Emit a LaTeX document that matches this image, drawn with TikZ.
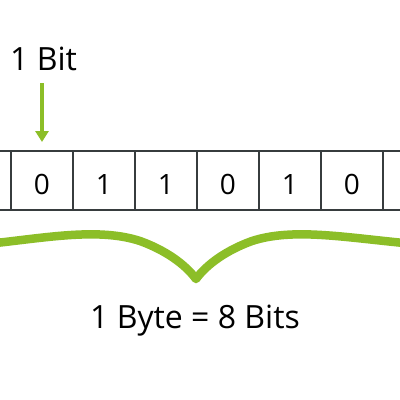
\documentclass[tikz,border=0pt]{standalone}
\usepackage{fontspec}
\setmainfont{Open Sans}
\usetikzlibrary{arrows.meta}
\definecolor{lime}{RGB}{140,190,40}
\definecolor{edge}{RGB}{55,60,62}
\tikzset{
  cell/.style={draw=edge, line width=2.5pt, minimum width=62pt, minimum height=59pt, inner sep=0pt, text height=28pt, text depth=0pt, font=\fontsize{28}{32}\selectfont, text=black},
  label/.style={font=\fontsize{32}{36}\selectfont, text=black, inner sep=0pt},
  brace/.style={draw=lime, line width=8.5pt, line cap=round, line join=round},
  pointer/.style={draw=lime, line width=4pt, -{Triangle[width=13pt,length=11pt]}}
}
\begin{document}
\begin{tikzpicture}[x=1pt,y=-1pt]
\useasboundingbox (0,0) rectangle (400,400);
\fill[white] (0,0) rectangle (400,400);
\node[cell] (c0) at (-20,180.5) {};
\node[cell] (c1) at (42,180.5) {0};
\node[cell] (c2) at (104,180.5) {1};
\node[cell] (c3) at (166,180.5) {1};
\node[cell] (c4) at (228,180.5) {0};
\node[cell] (c5) at (290,180.5) {1};
\node[cell] (c6) at (352,180.5) {0};
\node[cell] (c7) at (414,180.5) {};
\node[label, anchor=base west] (bit) at (10,70) {1 Bit};
\coordinate (a1) at (42,83);
\coordinate (a2) at (42,142);
\draw[pointer] (a1) -- (a2);
\coordinate (bl) at (-4,243);
\coordinate (tip) at (196,279);
\coordinate (br) at (404,243);
\draw[brace] (bl) .. controls (50,237) and (100,228) .. (140,241)
  .. controls (165,250) and (185,264) .. (tip)
  .. controls (207,264) and (227,250) .. (252,241)
  .. controls (292,228) and (342,237) .. (br);
\node[label, anchor=base] (byte) at (195,328) {1 Byte = 8 Bits};
\end{tikzpicture}
\end{document}
